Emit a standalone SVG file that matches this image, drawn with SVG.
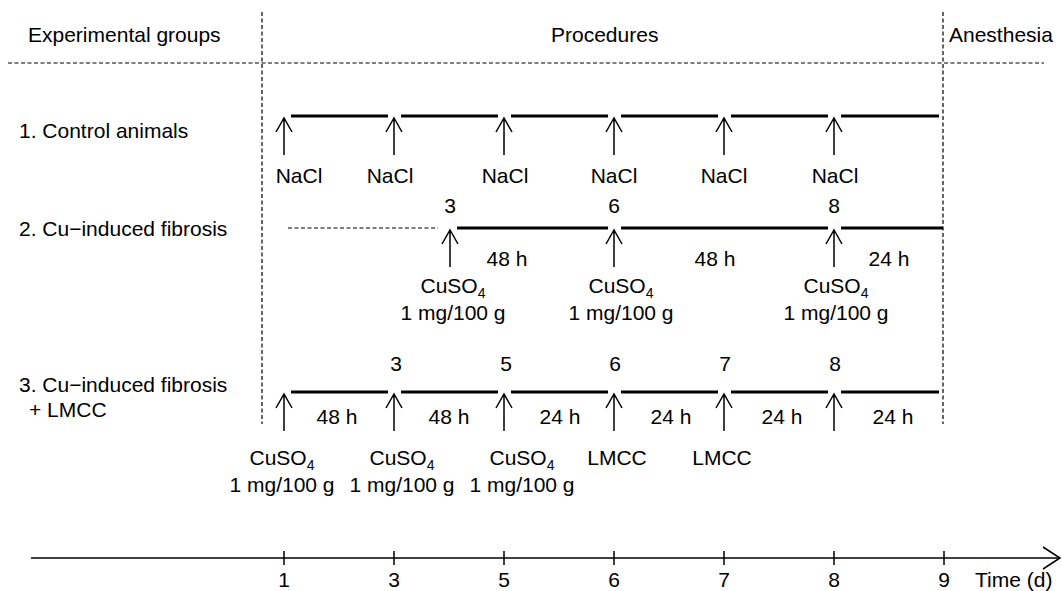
<svg xmlns="http://www.w3.org/2000/svg" xmlns:xlink="http://www.w3.org/1999/xlink" width="1062" height="591" viewBox="0 0 1062 591">
<style>
text{font-family:"Liberation Sans",Arial,sans-serif;font-size:21px;fill:#000}
.m{text-anchor:middle}
.dash{stroke:#000;stroke-width:1.2;stroke-dasharray:4,2.5;fill:none}
.seg{stroke:#000;stroke-width:3;fill:none}
.arr{stroke:#000;stroke-width:1.5;fill:none}
.ax{stroke:#000;stroke-width:1.5;fill:none}
.sub{font-size:14px}
</style>
<defs>
<path id="arrow" class="arr" d="M0,0 V37 M-8,14 L0,0 L8,14"/>
</defs>
<rect width="1062" height="591" fill="#fff"/>

<g id="frame">
<line class="dash" x1="8" y1="63" x2="1044" y2="63"/>
<line class="dash" x1="262" y1="12" x2="262" y2="424"/>
<line class="dash" x1="943" y1="12" x2="943" y2="424"/>
<text x="28" y="42">Experimental groups</text>
<text x="551" y="42">Procedures</text>
<text x="949" y="42">Anesthesia</text>
</g>

<g id="group1">
<text x="19" y="138">1. Control animals</text>
<path class="seg" d="M291,116H388M401,116H498M511,116H608M621,116H718M731,116H828M841,116H939"/>
<use xlink:href="#arrow" x="284" y="118"/>
<use xlink:href="#arrow" x="394" y="118"/>
<use xlink:href="#arrow" x="504" y="118"/>
<use xlink:href="#arrow" x="614" y="118"/>
<use xlink:href="#arrow" x="724" y="118"/>
<use xlink:href="#arrow" x="834" y="118"/>
<text class="m" x="299" y="183">NaCl</text>
<text class="m" x="390" y="183">NaCl</text>
<text class="m" x="505" y="183">NaCl</text>
<text class="m" x="614" y="183">NaCl</text>
<text class="m" x="724" y="183">NaCl</text>
<text class="m" x="835" y="183">NaCl</text>
</g>

<g id="group2">
<text x="19" y="236">2. Cu−induced fibrosis</text>
<line class="dash" x1="288" y1="228" x2="438" y2="228"/>
<path class="seg" d="M457,228H608M621,228H828M841,228H943"/>
<use xlink:href="#arrow" x="450" y="230"/>
<use xlink:href="#arrow" x="614" y="230"/>
<use xlink:href="#arrow" x="834" y="230"/>
<text class="m" x="450" y="213">3</text>
<text class="m" x="614" y="213">6</text>
<text class="m" x="834" y="213">8</text>
<text class="m" x="507" y="266">48 h</text>
<text class="m" x="715" y="266">48 h</text>
<text class="m" x="889" y="266">24 h</text>
<text class="m" x="453" y="293">CuSO<tspan class="sub" dy="5">4</tspan></text>
<text class="m" x="453" y="320">1 mg/100 g</text>
<text class="m" x="621" y="293">CuSO<tspan class="sub" dy="5">4</tspan></text>
<text class="m" x="621" y="320">1 mg/100 g</text>
<text class="m" x="836" y="293">CuSO<tspan class="sub" dy="5">4</tspan></text>
<text class="m" x="836" y="320">1 mg/100 g</text>
</g>

<g id="group3">
<text x="19" y="392">3. Cu−induced fibrosis</text>
<text x="29" y="417">+ LMCC</text>
<path class="seg" d="M291,392H388M401,392H498M511,392H608M621,392H718M731,392H828M841,392H939"/>
<use xlink:href="#arrow" x="284" y="394"/>
<use xlink:href="#arrow" x="394" y="394"/>
<use xlink:href="#arrow" x="504" y="394"/>
<use xlink:href="#arrow" x="614" y="394"/>
<use xlink:href="#arrow" x="724" y="394"/>
<use xlink:href="#arrow" x="834" y="394"/>
<text class="m" x="396" y="371">3</text>
<text class="m" x="506" y="371">5</text>
<text class="m" x="615" y="371">6</text>
<text class="m" x="725" y="371">7</text>
<text class="m" x="835" y="371">8</text>
<text class="m" x="337" y="424">48 h</text>
<text class="m" x="449" y="424">48 h</text>
<text class="m" x="560" y="424">24 h</text>
<text class="m" x="671" y="424">24 h</text>
<text class="m" x="782" y="424">24 h</text>
<text class="m" x="893" y="424">24 h</text>
<text class="m" x="282" y="465">CuSO<tspan class="sub" dy="5">4</tspan></text>
<text class="m" x="282" y="492">1 mg/100 g</text>
<text class="m" x="402" y="465">CuSO<tspan class="sub" dy="5">4</tspan></text>
<text class="m" x="402" y="492">1 mg/100 g</text>
<text class="m" x="522" y="465">CuSO<tspan class="sub" dy="5">4</tspan></text>
<text class="m" x="522" y="492">1 mg/100 g</text>
<text class="m" x="617" y="465">LMCC</text>
<text class="m" x="722" y="465">LMCC</text>
</g>

<g id="connectors">
<line class="ax" x1="31" y1="558" x2="1059" y2="558"/>
<path class="ax" d="M1043,547L1060,558L1043,569"/>
<path class="ax" d="M284,551V565M394,551V565M504,551V565M614,551V565M724,551V565M834,551V565M944,551V565"/>
</g>

<g id="axis-labels">
<text class="m" x="284" y="587">1</text>
<text class="m" x="394" y="587">3</text>
<text class="m" x="504" y="587">5</text>
<text class="m" x="614" y="587">6</text>
<text class="m" x="724" y="587">7</text>
<text class="m" x="834" y="587">8</text>
<text class="m" x="944" y="587">9</text>
<text x="975" y="587">Time (d)</text>
</g>
</svg>
